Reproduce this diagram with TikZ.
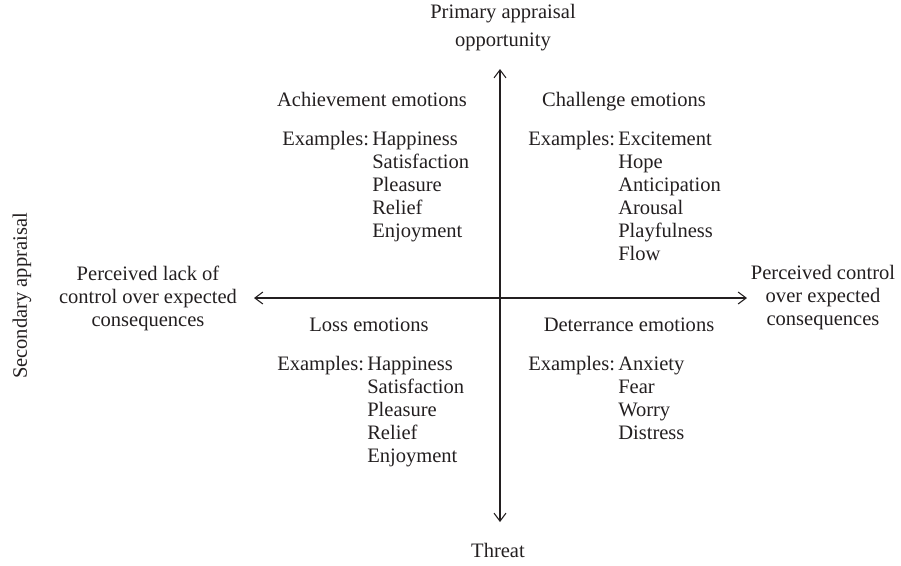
\documentclass[tikz,border=0pt]{standalone}
\usepackage{fontspec}
\setmainfont{Liberation Serif}
\usetikzlibrary{arrows.meta}
\definecolor{inkgray}{RGB}{35,31,32}

\begin{document}
\begin{tikzpicture}[x=0.75pt, y=-0.75pt,
    axisline/.style={inkgray, line width=0.8pt,
      {Straight Barb[length=6pt,width=9pt]}-{Straight Barb[length=6pt,width=9pt]}},
    txt/.style={text=inkgray, font=\fontsize{15.4}{17.25}\selectfont, inner sep=0pt}]
    \useasboundingbox (0,0) rectangle (901,565);

    % Axes (free ends)
    \coordinate (opp) at (500,69);
    \coordinate (thr) at (500,522);
    \coordinate (lack) at (254,298);
    \coordinate (ctrl) at (747,298);
    \draw[axisline] (opp) -- (thr);
    \draw[axisline] (lack) -- (ctrl);

    % Axis labels
    \node[txt, align=center] (primary) at (503,28) {Primary appraisal\\[3.75pt]opportunity};
    \node[txt] (threat) at (498,550) {Threat};
    \node[txt, align=center] (nocontrol) at (148,298) {Perceived lack of\\control over expected\\consequences};
    \node[txt, align=center] (control) at (823,298) {Perceived control\\over expected\\consequences};
    \node[txt, rotate=90] (secondary) at (22,296) {Secondary appraisal};

    % Upper left quadrant
    \node[txt, anchor=base] (achieve) at (372,106) {Achievement emotions};
    \node[txt, anchor=base west] (achieveex) at (282,145) {\begin{tabular}[t]{@{}l@{\hspace{2.5pt}}l@{}}
      Examples: & Happiness\\ & Satisfaction\\ & Pleasure\\ & Relief\\ & Enjoyment\end{tabular}};

    % Upper right quadrant
    \node[txt, anchor=base] (challenge) at (624,106) {Challenge emotions};
    \node[txt, anchor=base west] (challengeex) at (528,145) {\begin{tabular}[t]{@{}l@{\hspace{2.5pt}}l@{}}
      Examples: & Excitement\\ & Hope\\ & Anticipation\\ & Arousal\\ & Playfulness\\ & Flow\end{tabular}};

    % Lower left quadrant
    \node[txt, anchor=base] (loss) at (369,331) {Loss emotions};
    \node[txt, anchor=base west] (lossex) at (277,370) {\begin{tabular}[t]{@{}l@{\hspace{2.5pt}}l@{}}
      Examples: & Happiness\\ & Satisfaction\\ & Pleasure\\ & Relief\\ & Enjoyment\end{tabular}};

    % Lower right quadrant
    \node[txt, anchor=base] (deter) at (629,331) {Deterrance emotions};
    \node[txt, anchor=base west] (deterex) at (528,370) {\begin{tabular}[t]{@{}l@{\hspace{2.5pt}}l@{}}
      Examples: & Anxiety\\ & Fear\\ & Worry\\ & Distress\end{tabular}};
\end{tikzpicture}
\end{document}
